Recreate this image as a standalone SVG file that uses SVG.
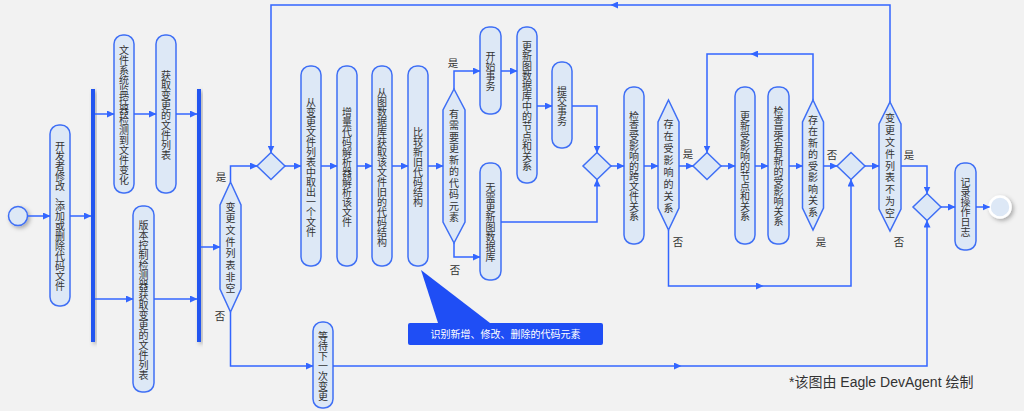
<svg xmlns="http://www.w3.org/2000/svg" width="1024" height="411" viewBox="0 0 1024 411">
<style>
.node rect{fill:#dde8f6;stroke:#3f6ff5;stroke-width:1.5}
.dec polygon{fill:#dde8f6;stroke:#3f6ff5;stroke-width:1.5}
.vt{font-family:"Noto Sans CJK SC","Noto Sans",sans-serif;font-size:10px;fill:#333;text-anchor:middle;dominant-baseline:central}
.lbl{font-family:"Noto Sans CJK SC","Noto Sans",sans-serif;font-size:10.5px;fill:#333;text-anchor:middle}
.conn path{fill:none;stroke:#3366ff;stroke-width:1.5;marker-end:url(#ah)}
.bar{fill:#2255f0}
</style>
<defs>
<marker id="ah" markerUnits="userSpaceOnUse" markerWidth="8" markerHeight="7" refX="7" refY="3.5" orient="auto">
<path d="M0,0 L7.5,3.5 L0,7 z" fill="#3366ff"/>
</marker>
<filter id="sh" x="-50%" y="-50%" width="200%" height="200%">
<feDropShadow dx="2" dy="2" stdDeviation="2" flood-color="#000" flood-opacity="0.3"/>
</filter>
</defs>
<rect x="0" y="0" width="1024" height="411" fill="#f2f2f2"/>

<g id="start"><circle cx="18" cy="216" r="9.5" fill="#dde8f6" stroke="#3f6ff5" stroke-width="1.5" filter="url(#sh)"/></g>
<g id="end"><circle cx="1000" cy="207" r="10.5" fill="#dde8f6" stroke="#ffffff" stroke-width="2.5" filter="url(#sh)"/></g>

<g id="fork1"><rect class="bar" x="91" y="89" width="4" height="253" filter="url(#sh)"/></g>
<g id="fork2"><rect class="bar" x="197" y="89" width="4" height="253" filter="url(#sh)"/></g>

<g id="n1" class="node"><rect x="50" y="125" width="20" height="181" rx="9"/><text class="vt" x="60 60 60 60 60 60 60 60 60 60 60 60 60 60 60" y="145.5 155.5 165.5 175.5 185.5 195.5 205.5 215.5 225.5 235.5 245.5 255.5 265.5 275.5 285.5">开发者修改、添加或删除代码文件</text></g>
<g id="n2" class="node"><rect x="114" y="35" width="20" height="158" rx="9"/><text class="vt" x="124 124 124 124 124 124 124 124 124 124 124 124 124 124" y="49 59 69 79 89 99 109 119 129 139 149 159 169 179">文件系统监控器检测到文件变化</text></g>
<g id="n3" class="node"><rect x="156" y="35" width="20" height="158" rx="9"/><text class="vt" x="166 166 166 166 166 166 166 166 166" y="74 84 94 104 114 124 134 144 154">获取变更的文件列表</text></g>
<g id="n4" class="node"><rect x="133" y="206" width="21" height="186" rx="9"/><text class="vt" x="143.5 143.5 143.5 143.5 143.5 143.5 143.5 143.5 143.5 143.5 143.5 143.5 143.5 143.5 143.5 143.5" y="224 234 244 254 264 274 284 294 304 314 324 334 344 354 364 374">版本控制检测器获取变更的文件列表</text></g>
<g id="n5" class="node"><rect x="301" y="66" width="20" height="200" rx="9"/><text class="vt" x="311 311 311 311 311 311 311 311 311 311 311 311 311 311" y="101 111 121 131 141 151 161 171 181 191 201 211 221 231">从变更文件列表中取出一个文件</text></g>
<g id="n6" class="node"><rect x="337" y="66" width="20" height="200" rx="9"/><text class="vt" x="347 347 347 347 347 347 347 347 347 347 347 347" y="111 121 131 141 151 161 171 181 191 201 211 221">增量代码解析器解析该文件</text></g>
<g id="n7" class="node"><rect x="372" y="66" width="20" height="200" rx="9"/><text class="vt" x="382 382 382 382 382 382 382 382 382 382 382 382 382 382 382 382" y="91 101 111 121 131 141 151 161 171 181 191 201 211 221 231 241">从图数据库获取该文件旧的代码结构</text></g>
<g id="n8" class="node"><rect x="408" y="66" width="20" height="200" rx="9"/><text class="vt" x="418 418 418 418 418 418 418 418" y="131 141 151 161 171 181 191 201">比较新旧代码结构</text></g>
<g id="n9" class="node"><rect x="480" y="27" width="21" height="87" rx="9"/><text class="vt" x="490.5 490.5 490.5 490.5" y="55.5 65.5 75.5 85.5">开始事务</text></g>
<g id="n10" class="node"><rect x="517" y="27" width="20" height="156" rx="9"/><text class="vt" x="527 527 527 527 527 527 527 527 527 527 527 527 527" y="45 55 65 75 85 95 105 115 125 135 145 155 165">更新图数据库中的节点和关系</text></g>
<g id="n11" class="node"><rect x="552" y="62" width="20" height="86" rx="9"/><text class="vt" x="562 562 562 562" y="90 100 110 120">提交事务</text></g>
<g id="n12" class="node"><rect x="480" y="163" width="21" height="117" rx="9"/><text class="vt" x="490.5 490.5 490.5 490.5 490.5 490.5 490.5 490.5" y="186.5 196.5 206.5 216.5 226.5 236.5 246.5 256.5">无需更新图数据库</text></g>
<g id="n13" class="node"><rect x="624" y="87" width="20" height="157" rx="9"/><text class="vt" x="634 634 634 634 634 634 634 634 634 634 634" y="115.5 125.5 135.5 145.5 155.5 165.5 175.5 185.5 195.5 205.5 215.5">检查受影响的跨文件关系</text></g>
<g id="n14" class="node"><rect x="735" y="87" width="20" height="157" rx="9"/><text class="vt" x="745 745 745 745 745 745 745 745 745 745 745" y="115.5 125.5 135.5 145.5 155.5 165.5 175.5 185.5 195.5 205.5 215.5">更新受影响的节点和关系</text></g>
<g id="n15" class="node"><rect x="768" y="87" width="21" height="157" rx="9"/><text class="vt" x="778.5 778.5 778.5 778.5 778.5 778.5 778.5 778.5 778.5 778.5 778.5 778.5" y="110.5 120.5 130.5 140.5 150.5 160.5 170.5 180.5 190.5 200.5 210.5 220.5">检查是否有新的受影响关系</text></g>
<g id="n16" class="node"><rect x="313" y="322" width="20" height="86" rx="9"/><text class="vt" x="323 323 323 323 323 323 323" y="335 345 355 365 375 385 395">等待下一次变更</text></g>
<g id="n17" class="node"><rect x="955" y="163" width="21" height="87" rx="9"/><text class="vt" x="965.5 965.5 965.5 965.5 965.5 965.5" y="181.5 191.5 201.5 211.5 221.5 231.5">记录操作日志</text></g>

<g id="d1" class="dec"><polygon points="230.5,182 241,205 241,289 230.5,312 220,289 220,205"/><text class="vt" x="230.5 230.5 230.5 230.5 230.5 230.5 230.5 230.5" y="206 217.7 229.4 241.1 252.8 264.5 276.2 287.9">变更文件列表非空</text></g>
<g id="d2" class="dec"><polygon points="454,89 465,110 465,222 454,243 443,222 443,110"/><text class="vt" x="454 454 454 454 454 454 454 454 454 454" y="113.3 124.8 136.3 147.8 159.3 170.8 182.3 193.8 205.3 216.8">有需要更新的代码元素</text></g>
<g id="d3" class="dec"><polygon points="668.5,100 679,122 679,208 668.5,230 658,208 658,122"/><text class="vt" x="668.5 668.5 668.5 668.5 668.5 668.5 668.5 668.5" y="123.9 135.8 147.7 159.6 171.5 183.4 195.3 207.2">存在受影响的关系</text></g>
<g id="d4" class="dec"><polygon points="813,100 823.5,122 823.5,208 813,230 802.5,208 802.5,122"/><text class="vt" x="813 813 813 813 813 813 813 813 813" y="119 130.5 142 153.5 165 176.5 188 199.5 211">存在新的受影响关系</text></g>
<g id="d5" class="dec"><polygon points="890,102 901,124 901,209 890,231 879,209 879,124"/><text class="vt" x="890 890 890 890 890 890 890 890 890" y="117.8 129.6 141.4 153.2 165 176.8 188.6 200.4 212.2">变更文件列表不为空</text></g>

<g id="m1" class="dec"><polygon points="271,152.5 285,166 271,179.5 257,166"/></g>
<g id="m2" class="dec"><polygon points="597,152.5 611,166 597,179.5 583,166"/></g>
<g id="m3" class="dec"><polygon points="707,152.5 721,166 707,179.5 693,166"/></g>
<g id="m4" class="dec"><polygon points="851,152.5 865,166 851,179.5 837,166"/></g>
<g id="m5" class="dec"><polygon points="927,193.5 941,207 927,220.5 913,207"/></g>

<g id="callout">
<polygon points="421,270 438,323 490,323" fill="#1f4ef5"/>
<rect x="408" y="323" width="195" height="22" rx="2" fill="#1f4ef5"/>
<text x="505.5" y="337.5" font-family="'Noto Sans CJK SC','Noto Sans',sans-serif" font-size="10" fill="#ffffff" text-anchor="middle">识别新增、修改、删除的代码元素</text>
</g>

<g id="connectors" class="conn">
<path d="M27.5,216 H50"/>
<path d="M70,216 H91"/>
<path d="M95,114 H114"/>
<path d="M134,114 H156"/>
<path d="M176,114 H197"/>
<path d="M95,299 H133"/>
<path d="M154,299 H197"/>
<path d="M201,247 H220"/>
<path d="M230.5,182 V166 H257"/>
<path d="M230.5,312 V366 H313"/>
<path d="M333,366 H681"/>
<path d="M681,366 H927 V220.5"/>
<path d="M285,166 H301"/>
<path d="M321,166 H337"/>
<path d="M357,166 H372"/>
<path d="M392,166 H408"/>
<path d="M428,166 H443"/>
<path d="M454,89 V71 H480"/>
<path d="M454,243 V257 H480"/>
<path d="M501,71 H517"/>
<path d="M537,106 H552"/>
<path d="M572,106 H597 V152.5"/>
<path d="M501,222 H597 V179.5"/>
<path d="M611,166 H624"/>
<path d="M644,166 H658"/>
<path d="M679,166 H693"/>
<path d="M668.5,230 V286 H763"/>
<path d="M763,286 H851 V179.5"/>
<path d="M721,166 H735"/>
<path d="M755,166 H768"/>
<path d="M789,166 H802.5"/>
<path d="M813,100 V54 H751"/>
<path d="M751,54 H707 V152.5"/>
<path d="M823.5,166 H837"/>
<path d="M865,166 H879"/>
<path d="M890,102 V5 H611"/>
<path d="M611,5 H271 V152.5"/>
<path d="M901,166 H927 V193.5"/>
<path d="M941,207 H955"/>
<path d="M976,207 H989.5"/>
</g>

<g id="labels">
<text class="lbl" x="221" y="181">是</text>
<text class="lbl" x="220" y="320">否</text>
<text class="lbl" x="453" y="67">是</text>
<text class="lbl" x="455" y="274">否</text>
<text class="lbl" x="688" y="158">是</text>
<text class="lbl" x="678" y="246">否</text>
<text class="lbl" x="832" y="159">否</text>
<text class="lbl" x="821" y="246">是</text>
<text class="lbl" x="909" y="159">是</text>
<text class="lbl" x="899" y="246">否</text>
</g>

<text x="789" y="387" font-family="'Liberation Sans','Noto Sans CJK SC',sans-serif" font-size="14" fill="#333">*该图由 Eagle DevAgent 绘制</text>
</svg>
